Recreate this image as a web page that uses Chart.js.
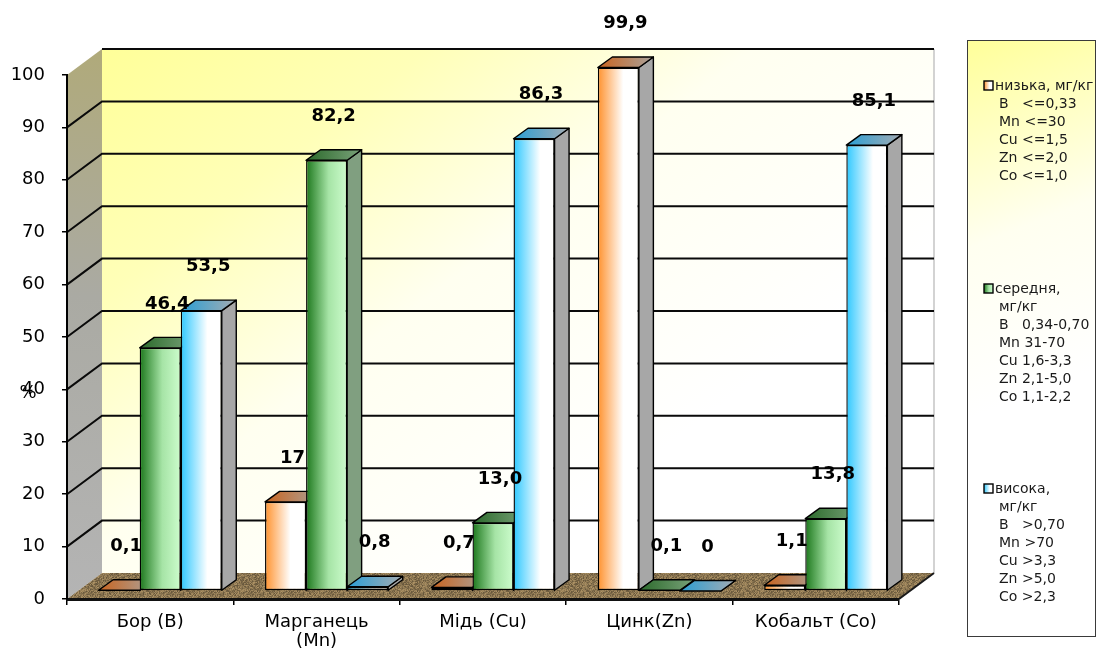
<!DOCTYPE html>
<html>
<head>
<meta charset="utf-8">
<script src="https://cdn.jsdelivr.net/npm/chart.js@4.4.1/dist/chart.umd.min.js"></script>
<style>
  html, body { margin: 0; padding: 0; background: #ffffff; }
  #wrap { width: 1099px; height: 659px; }
</style>
</head>
<body>
<div id="wrap"><canvas id="chart" width="1099" height="659"></canvas></div>
<script>
// ---- data ----
const categories = [['Бор (B)'], ['Марганець', '(Mn)'], ['Мідь (Cu)'], ['Цинк(Zn)'], ['Кобальт (Co)']];
const seriesNames = ['низька, мг/кг', 'середня, мг/кг', 'висока, мг/кг'];
const lowShare  = ['0,1', '17',   '0,7',  '99,9', '1,1'];
const midShare  = ['46,4', '82,2', '13,0', '0,1', '13,8'];
const highShare = ['53,5', '0,8',  '86,3', '0',   '85,1'];
const yTicks = [0, 10, 20, 30, 40, 50, 60, 70, 80, 90, 100];
const yTitle = '%';
const legendLow  = ['низька, мг/кг', 'B   <=0,33', 'Mn <=30', 'Cu <=1,5', 'Zn <=2,0', 'Co <=1,0'];
const legendMid  = ['середня,', 'мг/кг', 'B   0,34-0,70', 'Mn 31-70', 'Cu 1,6-3,3', 'Zn 2,1-5,0', 'Co 1,1-2,2'];
const legendHigh = ['висока,', 'мг/кг', 'B   >0,70', 'Mn >70', 'Cu >3,3', 'Zn >5,0', 'Co >2,3'];

const toNum = s => parseFloat(s.replace(',', '.'));
const shareLabels = [lowShare, midShare, highShare];
const legendBlocks = [legendLow, legendMid, legendHigh];

// ---- look ----
const FONT = "'DejaVu Sans', sans-serif";
const WALL = { dx: 35, dy: -26 };       // depth of the floor / back wall
const BAR_SHIFT = { dx: 10, dy: -8 };   // bars stand a little behind the front edge
const BAR_DEPTH = { dx: 14.5, dy: -10.5 };
const GROUP_PCT = 0.74;

const STYLES = [
  { front: [[0, '#ff922e'], [0.62, '#ffffff'], [1, '#ffffff']], top: ['#c9641f', '#aaa39c'], side: '#a7a7a7' },
  { front: [[0, '#1c771c'], [0.55, '#a6e4a6'], [1, '#ccfccc']], top: ['#2b6a2b', '#7aa27a'], side: '#809f80' },
  { front: [[0, '#2ec8ff'], [0.65, '#ffffff'], [1, '#ffffff']], top: ['#2a9ed4', '#a4acb3'], side: '#a7a7a7' }
];

function hGrad(ctx, x0, x1, stops) {
  const g = ctx.createLinearGradient(x0, 0, x1, 0);
  stops.forEach(s => g.addColorStop(s[0], s[1]));
  return g;
}

function barLeft(chart, dataIndex, datasetIndex) {
  const xs = chart.scales.x, a = chart.chartArea;
  const catW = (a.right - a.left) / categories.length;
  const groupW = catW * GROUP_PCT;
  const barW = groupW / 3;
  const left = xs.getPixelForValue(dataIndex) - groupW / 2 + datasetIndex * barW;
  return [left, left + barW];
}

function frontFill(c) {
  const st = STYLES[c.datasetIndex];
  if (c.type !== 'data' || !c.chart.chartArea) return st.front[0][1];
  const [l, r] = barLeft(c.chart, c.dataIndex, c.datasetIndex);
  return hGrad(c.chart.ctx, l, r, st.front);
}

function floorPattern(ctx) {
  const n = 40;
  const cv = document.createElement('canvas');
  cv.width = n; cv.height = n;
  const p = cv.getContext('2d');
  const img = p.createImageData(n, n);
  for (let yy = 0; yy < n; yy++) {
    for (let xx = 0; xx < n; xx++) {
      const h = Math.abs(Math.sin(xx * 12.9898 + yy * 78.233) * 43758.5453) % 1;
      const f = 0.68 + 0.5 * h;
      const i = (yy * n + xx) * 4;
      img.data[i] = Math.min(255, 148 * f);
      img.data[i + 1] = Math.min(255, 125 * f);
      img.data[i + 2] = Math.min(255, 86 * f);
      img.data[i + 3] = 255;
    }
  }
  p.putImageData(img, 0, 0);
  return ctx.createPattern(cv, 'repeat');
}

function poly(ctx, pts) {
  ctx.beginPath();
  ctx.moveTo(pts[0][0], pts[0][1]);
  for (let i = 1; i < pts.length; i++) ctx.lineTo(pts[i][0], pts[i][1]);
  ctx.closePath();
}

const scene = {
  id: 'scene',
  beforeDraw(chart) {
    const { ctx, chartArea: a, scales: { y } } = chart;
    const L = a.left, R = a.right;
    const B = y.getPixelForValue(0), T = y.getPixelForValue(100);
    ctx.save();
    // back wall
    const bw = ctx.createLinearGradient(L + WALL.dx, T + WALL.dy, L + WALL.dx + 400, B + WALL.dy);
    bw.addColorStop(0, '#ffff99');
    bw.addColorStop(0.3, '#ffffb8');
    bw.addColorStop(0.6, '#fffff0');
    bw.addColorStop(1, '#ffffff');
    ctx.fillStyle = bw;
    ctx.fillRect(L + WALL.dx, T + WALL.dy, R - L, B - T);
    // side wall
    poly(ctx, [[L, T], [L + WALL.dx, T + WALL.dy], [L + WALL.dx, B + WALL.dy], [L, B]]);
    const sw = ctx.createLinearGradient(L, B, L + WALL.dx, T + WALL.dy);
    sw.addColorStop(0, '#b4b4b4');
    sw.addColorStop(0.55, '#aaaaa3');
    sw.addColorStop(1, '#b0aa7a');
    ctx.fillStyle = sw;
    ctx.fill();
    // floor
    poly(ctx, [[L, B], [L + WALL.dx, B + WALL.dy], [R + WALL.dx, B + WALL.dy], [R, B]]);
    ctx.fillStyle = floorPattern(ctx);
    ctx.fill();
    // right edge of the wall
    ctx.strokeStyle = '#c4c4c4';
    ctx.lineWidth = 1.5;
    ctx.beginPath();
    ctx.moveTo(R + WALL.dx, T + WALL.dy);
    ctx.lineTo(R + WALL.dx, B + WALL.dy);
    ctx.stroke();
    // gridlines
    ctx.strokeStyle = '#0a0a0a';
    ctx.lineWidth = 2;
    yTicks.forEach(v => {
      if (v === 0) return;
      const py = y.getPixelForValue(v);
      ctx.beginPath();
      if (v < 100) {
        ctx.moveTo(L, py);
        ctx.lineTo(L + WALL.dx, py + WALL.dy);
      } else {
        ctx.moveTo(L + WALL.dx, py + WALL.dy);
      }
      ctx.lineTo(R + WALL.dx, py + WALL.dy);
      ctx.stroke();
    });
    // floor right edge
    ctx.strokeStyle = '#1a1a1a';
    ctx.lineWidth = 2;
    ctx.beginPath();
    ctx.moveTo(R, B);
    ctx.lineTo(R + WALL.dx, B + WALL.dy);
    ctx.stroke();
    ctx.restore();
  },
  beforeDatasetsDraw(chart) {
    const ctx = chart.ctx;
    ctx.save();
    ctx.translate(BAR_SHIFT.dx, BAR_SHIFT.dy);
    ctx.lineWidth = 1.4;
    ctx.strokeStyle = '#000';
    ctx.lineJoin = 'round';
    const dx = BAR_DEPTH.dx, dy = BAR_DEPTH.dy;
    for (let j = 0; j < categories.length; j++) {
      for (let i = 0; i < 3; i++) {
        const el = chart.getDatasetMeta(i).data[j];
        const l = el.x - el.width / 2, r = el.x + el.width / 2;
        const top = Math.min(el.y, el.base), base = Math.max(el.y, el.base);
        const st = STYLES[i];
        // side
        poly(ctx, [[r, top], [r + dx, top + dy], [r + dx, base + dy], [r, base]]);
        ctx.fillStyle = st.side;
        ctx.fill();
        ctx.stroke();
        // top
        poly(ctx, [[l, top], [r, top], [r + dx, top + dy], [l + dx, top + dy]]);
        ctx.fillStyle = hGrad(ctx, l, r + dx, [[0, st.top[0]], [1, st.top[1]]]);
        ctx.fill();
        ctx.stroke();
      }
    }
  },
  afterDatasetsDraw(chart) {
    const ctx = chart.ctx;
    ctx.restore();
    ctx.save();
    ctx.font = 'bold 18px ' + FONT;
    ctx.fillStyle = '#000';
    ctx.textAlign = 'center';
    ctx.textBaseline = 'middle';
    for (let i = 0; i < 3; i++) {
      chart.getDatasetMeta(i).data.forEach((el, j) => {
        ctx.fillText(shareLabels[i][j], el.x + BAR_SHIFT.dx + 7, el.y + BAR_SHIFT.dy - 44);
      });
    }
    ctx.restore();
  },
  afterDraw(chart) {
    const ctx = chart.ctx;
    const y = chart.scales.y;
    ctx.save();
    // axis title
    ctx.font = '18px ' + FONT;
    ctx.fillStyle = '#000';
    ctx.textAlign = 'center';
    ctx.textBaseline = 'middle';
    ctx.fillText(yTitle, 28, (y.getPixelForValue(40) + 4));
    // legend
    const bx = 967, by = 40, bwid = 128, bh = 596;
    const lg = ctx.createLinearGradient(bx, by, bx + bwid, by + 330);
    lg.addColorStop(0, '#ffff99');
    lg.addColorStop(0.55, '#fffff0');
    lg.addColorStop(1, '#ffffff');
    ctx.fillStyle = lg;
    ctx.fillRect(bx, by, bwid, bh);
    ctx.strokeStyle = '#3a3a3a';
    ctx.lineWidth = 1;
    ctx.strokeRect(bx + 0.5, by + 0.5, bwid, bh);
    ctx.font = '14px ' + FONT;
    ctx.textAlign = 'left';
    const starts = [86, 289, 489];
    const step = 18;
    legendBlocks.forEach((lines, k) => {
      const y0 = starts[k];
      const mx = 984, my = y0 - 5;
      ctx.fillStyle = hGrad(ctx, mx, mx + 9, STYLES[k].front);
      ctx.fillRect(mx, my, 9, 9);
      ctx.strokeStyle = '#000';
      ctx.lineWidth = 1.4;
      ctx.strokeRect(mx, my, 9, 9);
      ctx.fillStyle = '#1a1a1a';
      lines.forEach((t, n) => {
        ctx.fillText(t, n === 0 ? 995 : 999, y0 + n * step);
      });
    });
    ctx.restore();
  }
};

const datasets = shareLabels.map((arr, i) => ({
  label: seriesNames[i],
  data: arr.map(toNum),
  backgroundColor: frontFill,
  borderColor: '#000',
  borderWidth: 1.4,
  borderSkipped: false,
  categoryPercentage: GROUP_PCT,
  barPercentage: 1.0,
  clip: false
}));

new Chart(document.getElementById('chart'), {
  type: 'bar',
  data: { labels: categories, datasets },
  options: {
    responsive: false,
    devicePixelRatio: 1,
    animation: false,
    layout: { padding: { top: 75, right: 200, left: 0, bottom: 0 } },
    plugins: { legend: { display: false }, tooltip: { enabled: false } },
    scales: {
      x: {
        afterFit: s => { s.height = 60; },
        grid: { drawOnChartArea: false, drawTicks: true, tickLength: 6, color: '#000', lineWidth: 1.5, offset: true },
        border: { display: true, color: '#111', width: 3 },
        ticks: { color: '#000', font: { family: FONT, size: 18, lineHeight: 1.05 }, padding: 8, maxRotation: 0, autoSkip: false }
      },
      y: {
        min: 0, max: 100,
        afterFit: s => { s.width = 67; },
        afterBuildTicks: s => { s.ticks = yTicks.map(v => ({ value: v })); },
        grid: { drawOnChartArea: false, drawTicks: true, tickLength: 5, color: '#000', lineWidth: 1.5 },
        border: { display: true, color: '#000', width: 2 },
        ticks: { color: '#000', font: { family: FONT, size: 18 }, padding: 17 }
      }
    }
  },
  plugins: [scene]
});
</script>
</body>
</html>
